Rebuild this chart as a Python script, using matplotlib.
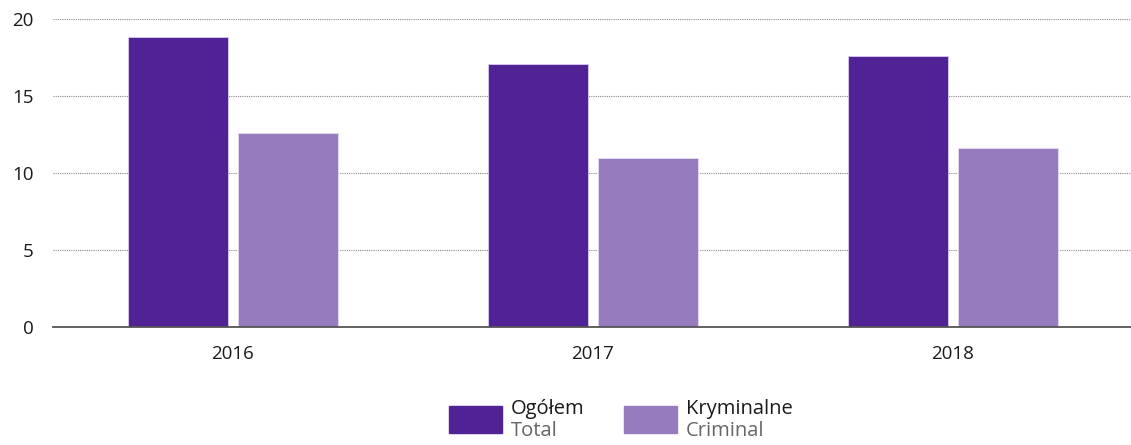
import matplotlib.pyplot as plt
from matplotlib.patches import Rectangle
import numpy as np

plt.rcParams['font.family'] = ['Open Sans', 'DejaVu Sans']

# Data
years = ['2016', '2017', '2018']
total = [18.8, 17.1, 17.6]
criminal = [12.6, 11.0, 11.6]

c_total = '#512296'
c_crim = '#967cbf'

fig = plt.figure(figsize=(11.31, 4.45), dpi=100)
ax = fig.add_axes([53 / 1131, 1 - 327 / 445, 1 - 53 / 1131, (327 - 19) / 445])

x = np.arange(len(years))
w = 100 / 360
off = 55 / 360
ax.bar(x - off, total, width=w, color=c_total, edgecolor='#d9cdee', linewidth=0.6, zorder=3)
ax.bar(x + off, criminal, width=w, color=c_crim, edgecolor='#e6ddf3', linewidth=0.6, zorder=3)

ax.set_xlim(-0.5, 2 + 178 / 360)
ax.set_ylim(0, 20)
ax.set_yticks([0, 5, 10, 15, 20])
ax.set_xticks(x)
ax.set_xticklabels(years)
ax.tick_params(axis='both', length=0, labelsize=13.5, colors='#1a1a1a')
ax.tick_params(axis='y', pad=14)
ax.tick_params(axis='x', pad=13)

ax.grid(axis='y', color='#8a8a8a', linestyle=(0, (1, 1)), linewidth=0.8, zorder=0)
for s in ['top', 'right', 'left']:
    ax.spines[s].set_visible(False)
ax.spines['bottom'].set_color('#555555')
ax.spines['bottom'].set_linewidth(1.3)
ax.spines['bottom'].set_zorder(4)

# Legend drawn by hand: swatch, Polish label, English label underneath
def legend_item(x0, color, pl, en):
    fig.add_artist(Rectangle((x0 / 1131, 1 - 433 / 445), 53 / 1131, 27 / 445,
                             transform=fig.transFigure, color=color))
    fig.text((x0 + 62) / 1131, 1 - 409 / 445, pl, fontsize=14.5, color='#1a1a1a', va='center')
    fig.text((x0 + 62) / 1131, 1 - 431 / 445, en, fontsize=14.5, color='#666666', va='center')

legend_item(449, c_total, 'Ogółem', 'Total')
legend_item(624, c_crim, 'Kryminalne', 'Criminal')

fig.savefig('out.png', dpi=100)
